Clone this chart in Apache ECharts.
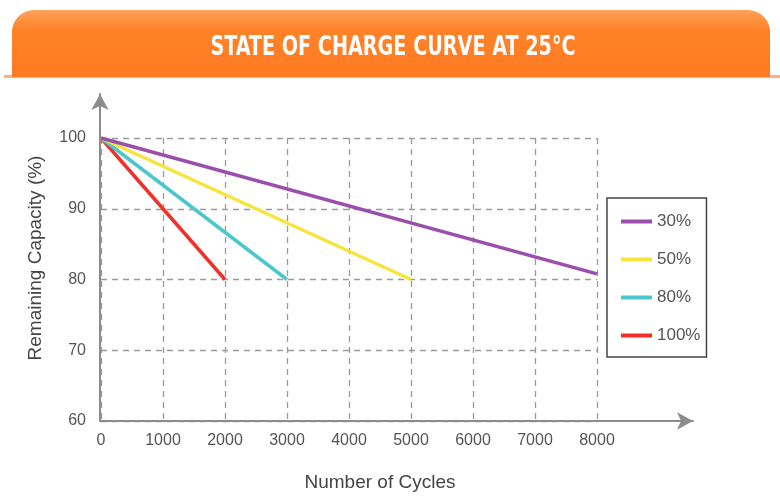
<!DOCTYPE html>
<html>
<head>
<meta charset="utf-8">
<script src="https://cdn.jsdelivr.net/npm/echarts@6/dist/echarts.min.js"></script>
<style>
  html, body { margin: 0; padding: 0; background: #fff; }
  #chart { width: 780px; height: 497px; }
</style>
</head>
<body>
<div id="chart"></div>
<script>
// Capacity fade by depth of discharge
const seriesNames = ['30%', '50%', '80%', '100%'];
const seriesColors = ['#9a4fad', '#f7e53b', '#4cc8cc', '#f2302a'];
const dod30 = [[0, 100], [8000, 80.8]];
const dod50 = [[0, 100], [5000, 80]];
const dod80 = [[0, 100], [3000, 80]];
const dod100 = [[0, 100], [2000, 80]];
const xTicks = [0, 1000, 2000, 3000, 4000, 5000, 6000, 7000, 8000];
const yTicks = [60, 70, 80, 90, 100];

const seriesData = [dod30, dod50, dod80, dod100];

const chart = echarts.init(document.getElementById('chart'), null, { renderer: 'canvas' });

const labelFont = { color: '#555', fontSize: 16, fontFamily: 'Arial, "Liberation Sans", sans-serif' };

chart.setOption({
  animation: false,
  backgroundColor: '#fff',
  grid: [
    { left: 101, right: 183, top: 138, bottom: 76 },
    { left: 100, right: 87, top: 94, bottom: 76 }
  ],
  xAxis: [
    {
      gridIndex: 0, type: 'value',
      min: xTicks[0], max: xTicks[xTicks.length - 1], interval: 1000,
      axisLine: { show: false }, axisTick: { show: false },
      axisLabel: Object.assign({ margin: 12, formatter: v => String(v) }, labelFont),
      splitLine: { show: true, lineStyle: { color: '#9a9a9a', type: [6, 5], width: 1.3 } }
    },
    {
      gridIndex: 1, type: 'value', min: 0, max: 1,
      axisLine: { show: true, symbol: ['none', 'arrow'], symbolSize: [13, 16], lineStyle: { color: '#8c8c8c', width: 2 } },
      axisTick: { show: false }, axisLabel: { show: false }, splitLine: { show: false }
    }
  ],
  yAxis: [
    {
      gridIndex: 0, type: 'value',
      min: yTicks[0], max: yTicks[yTicks.length - 1], interval: 10,
      axisLine: { show: false }, axisTick: { show: false },
      axisLabel: Object.assign({ margin: 15, formatter: v => String(v) }, labelFont),
      splitLine: { show: true, lineStyle: { color: '#9a9a9a', type: [6, 5], width: 1.3 } }
    },
    {
      gridIndex: 1, type: 'value', min: 0, max: 1,
      axisLine: { show: true, symbol: ['none', 'arrow'], symbolSize: [13, 16], lineStyle: { color: '#8c8c8c', width: 2 } },
      axisTick: { show: false }, axisLabel: { show: false }, splitLine: { show: false }
    }
  ],
  legend: {
    orient: 'vertical',
    left: 607, top: 198,
    padding: [15, 6, 13, 14],
    itemWidth: 31, itemHeight: 4, itemGap: 21,
    icon: 'rect',
    borderColor: '#444', borderWidth: 1.5,
    data: seriesNames,
    textStyle: { color: '#555', fontSize: 17, fontFamily: 'Arial, "Liberation Sans", sans-serif', width: 50, align: 'right' }
  },
  series: seriesNames.map((name, i) => ({
    name: name,
    type: 'line',
    xAxisIndex: 0, yAxisIndex: 0,
    data: seriesData[i],
    showSymbol: false,
    color: seriesColors[i],
    lineStyle: { width: 3.5, color: seriesColors[i] },
    z: 10 - i
  })),
  graphic: [
    {
      type: 'rect', z: 1,
      shape: { x: 4, y: 75, width: 776, height: 3 },
      style: { fill: '#fbb37f' }
    },
    {
      type: 'rect', z: 2,
      shape: { x: 12, y: 10, width: 758, height: 67, r: [22, 22, 0, 0] },
      style: {
        fill: new echarts.graphic.LinearGradient(0, 0, 0, 1, [
          { offset: 0, color: '#ffa25c' },
          { offset: 0.3, color: '#ff8228' },
          { offset: 1, color: '#ff7b22' }
        ])
      }
    },
    {
      type: 'text', z: 3,
      x: 393, y: 48, scaleX: 0.79,
      style: {
        text: 'STATE OF CHARGE CURVE AT 25°C',
        fill: '#fff',
        font: 'bold 27px "DejaVu Sans Condensed", "DejaVu Sans", sans-serif',
        align: 'center', verticalAlign: 'middle'
      }
    },
    {
      type: 'text',
      x: 36, y: 258, rotation: Math.PI / 2,
      style: {
        text: 'Remaining Capacity (%)',
        fill: '#444',
        font: '19px Arial, "Liberation Sans", sans-serif',
        align: 'center', verticalAlign: 'middle'
      }
    },
    {
      type: 'text',
      x: 380, y: 483,
      style: {
        text: 'Number of Cycles',
        fill: '#444',
        font: '19px Arial, "Liberation Sans", sans-serif',
        align: 'center', verticalAlign: 'middle'
      }
    }
  ]
});
</script>
</body>
</html>
